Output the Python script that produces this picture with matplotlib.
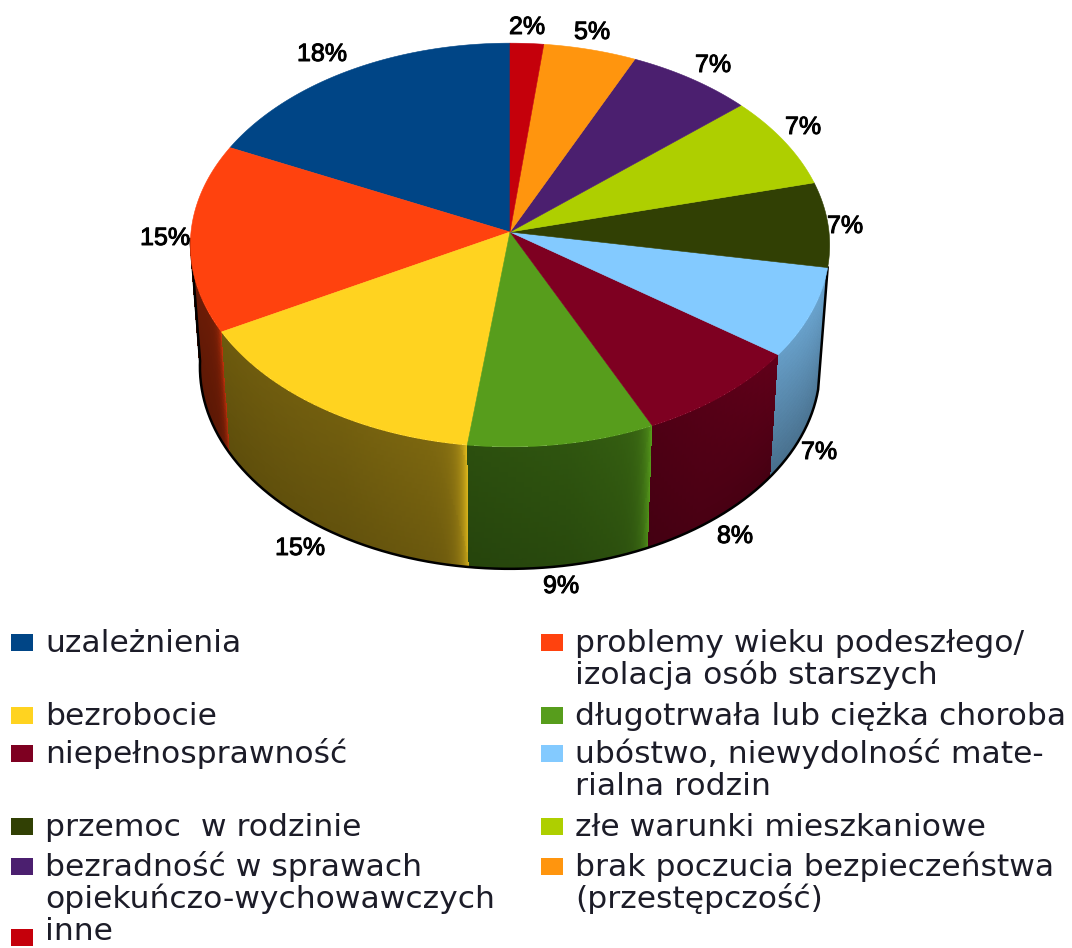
from __future__ import annotations

import numpy as np
import matplotlib
matplotlib.use("Agg")
import matplotlib.pyplot as plt
import matplotlib.patheffects as pe
from matplotlib.colors import to_rgb
from matplotlib.patches import Polygon, Rectangle

# legend order, which is also the counter-clockwise order from 12 o'clock
VALUES = [17.9, 15.1, 15.0, 8.9, 8.1, 7.2, 6.8, 7.4, 6.8, 5.0, 1.8]
COLORS = ["#004586", "#ff420e", "#ffd320", "#579d1c", "#7e0021", "#83caff",
          "#314004", "#aecf00", "#4b1f6f", "#ff950e", "#c5000b"]
LABELS = ["uzależnienia", "problemy wieku podeszłego/\nizolacja osób starszych",
          "bezrobocie", "długotrwała lub ciężka choroba", "niepełnosprawność",
          "ubóstwo, niewydolność mate-\nrialna rodzin", "przemoc  w rodzinie",
          "złe warunki mieszkaniowe",
          "bezradność w sprawach\nopiekuńczo-wychowawczych",
          "brak poczucia bezpieczeństwa\n(przestępczość)", "inne"]
PERCENTS = ["18%", "15%", "15%", "9%", "8%", "7%", "7%", "7%", "7%", "5%", "2%"]

# layout, in image pixels
PERCENT_XY = [(322, 54), (165, 238), (300, 548), (561, 586), (735, 536), (819, 452),
              (845, 226), (803, 127), (713, 65), (592, 32), (527, 27)]
LEGEND_BASELINES = [652, 652, 725, 725, 763, 763, 836, 836, 876, 876, 947]
TEXT_FLOOR = 940
CX, CY, RX, RY, PERSP, DEPTH, TAPER = 510, 232, 319, 201, 0.0644, 122, 0.03


def project(theta, level=0.0):
    """theta in degrees clockwise from the top, level 0 on the top face, 1 at the bottom."""
    t = np.radians(theta)
    w = 1 + PERSP * np.cos(t)
    x = RX * np.sin(t) / w * (1 - TAPER * level)
    return CX + x, CY - RY * np.cos(t) / w + level * DEPTH


def side_shade(theta):
    return np.interp(theta, [95, 125, 140, 170, 210, 250, 275],
                     [0.84, 0.78, 0.70, 0.54, 0.45, 0.42, 0.42])


def draw_side(ax, start: float, stop: float, color: str) -> None:
    th = np.linspace(start, stop, max(int(stop - start) * 6, 2) + 1)
    levels = np.linspace(0, 1, 25)
    tt, ll = np.meshgrid(th, levels)
    x, y = project(tt, ll)
    mid_t = 0.5 * (tt[:-1, :-1] + tt[1:, 1:])
    mid_l = 0.5 * (ll[:-1, :-1] + ll[1:, 1:])
    glow = 0.4 * np.exp(-(mid_t - start) / 1.3) * (140 < start < 250)
    fade = np.interp(mid_t, [100, 125, 145], [0.3, 0.3, 0.14])
    shade = (side_shade(mid_t) * (1 - fade * mid_l) + glow)[..., None]
    rgb = np.clip(np.array(to_rgb(color)) * shade, 0, 1)
    ax.pcolormesh(x, y, rgb, shading="flat", antialiased=False, zorder=2)


def main() -> None:
    plt.rcParams["font.family"] = ["DejaVu Sans"]
    fig = plt.figure(figsize=(10.72, 9.48), dpi=100)
    ax = fig.add_axes([0, 0, 1, 1])
    ax.set_xlim(0, 1072)
    ax.set_ylim(948, 0)
    ax.axis("off")

    # wedge limits, clockwise from the top
    stops = 360 - np.cumsum(VALUES) * 3.6
    starts = np.r_[360, stops[:-1]]
    wedges = list(zip(stops, starts, COLORS))

    # the wedge that only grazes the right edge gets no side of its own
    front = [w for w in wedges if w[1] > 105 and w[0] < 268]
    rim_lo = min(w[0] for w in front)
    for lo, hi, color in front:
        draw_side(ax, lo, min(hi, 268), color)

    # black rim round the visible side
    th = np.linspace(rim_lo, 268, 300)
    x, y = project(th, 1.0)
    x0, y0 = project(np.array([rim_lo]))
    x1, y1 = project(np.array([268.0]))
    ax.plot(np.r_[x0, x, x1], np.r_[y0, y, y1], color="black", lw=1.8, zorder=3)

    for lo, hi, color in wedges:
        th = np.linspace(lo, hi, 80)
        x, y = project(th)
        pts = np.column_stack([np.r_[CX, x], np.r_[CY, y]])
        ax.add_patch(Polygon(pts, closed=True, facecolor=color, edgecolor=color, lw=0.4, zorder=4))

    for text, (px, py) in zip(PERCENTS, PERCENT_XY):
        ax.text(px, py, text, fontsize=18, family="Liberation Sans", color="black",
                ha="center", va="center", zorder=5,
                path_effects=[pe.withStroke(linewidth=0.7, foreground="black")])

    for i, (label, color, base) in enumerate(zip(LABELS, COLORS, LEGEND_BASELINES)):
        col_x = 11 if i % 2 == 0 else 541
        ax.add_patch(Rectangle((col_x, base - 18), 22, 17, facecolor=color, edgecolor="none"))
        for n, line in enumerate(label.split("\n")):
            ax.text(col_x + 34, min(base, TEXT_FLOOR) + 32 * n, line, fontsize=22.6,
                    color="#1c1c28", ha="left", va="baseline")

    fig.savefig("out.png", dpi=100)
    plt.close(fig)


if __name__ == "__main__":
    main()
